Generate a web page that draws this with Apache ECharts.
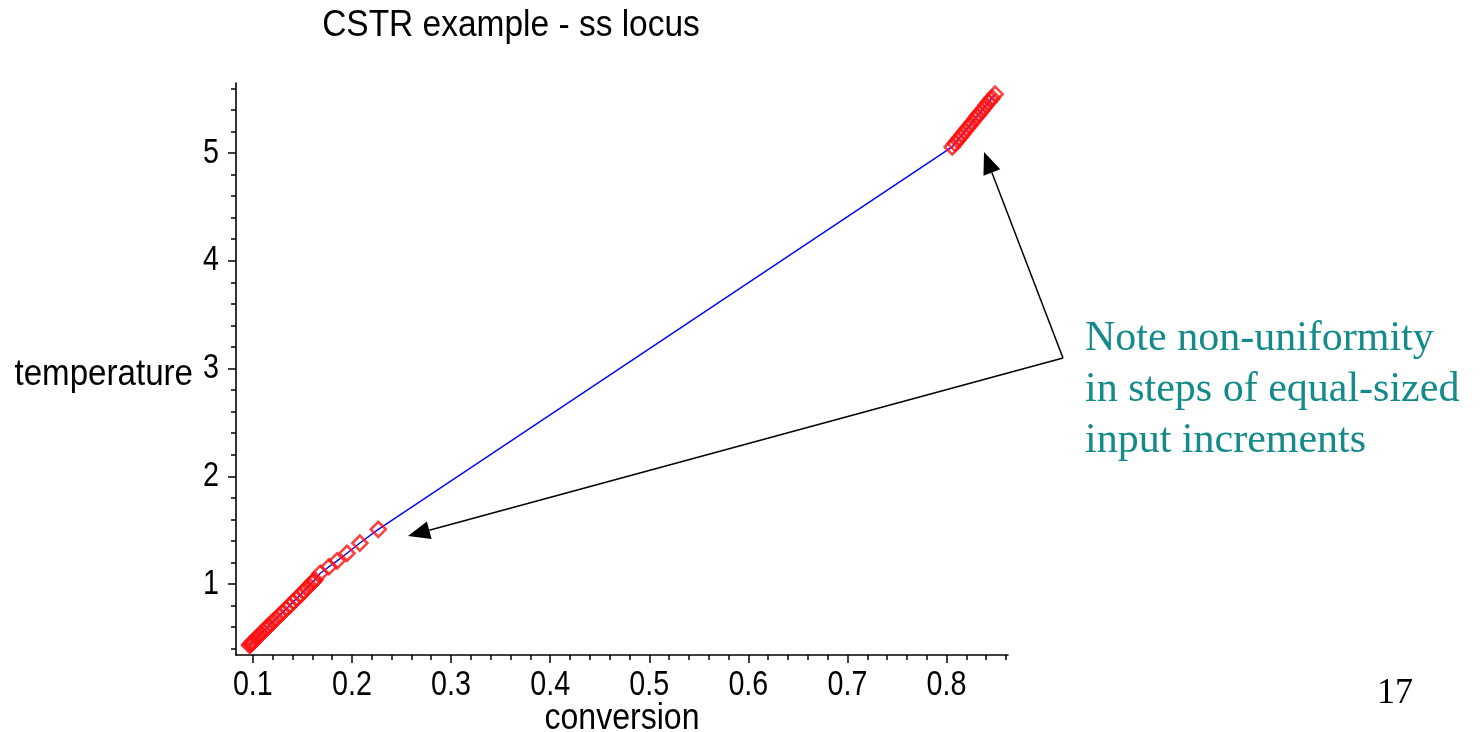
<!DOCTYPE html>
<html><head><meta charset="utf-8">
<script src="https://cdn.jsdelivr.net/npm/echarts@6/dist/echarts.min.js"></script>
<style>html,body{margin:0;padding:0;background:#fff;}#c{width:1484px;height:732px;}</style>
</head><body><div id="c"></div>
<script>
// steady-state locus points (conversion, temperature)
const conversion = [0.0968,0.0975,0.0983,0.0992,0.1002,0.1014,0.1028,0.1044,0.1062,0.1082,0.1104,0.1128,0.1150,0.1158,0.1180,0.1208,0.1238,0.1270,0.1303,0.1337,0.1372,0.1407,0.1442,0.1477,0.1510,0.1542,0.1570,0.1595,0.1613,0.1626,
  0.1680,0.1768,0.1850,0.1950,0.2080,0.2266,
  0.8057,0.8085,0.8110,0.8135,0.8160,0.8185,0.8210,0.8235,0.8260,0.8290,0.8310,0.8330,0.8350,0.8375,0.8400,0.8425,0.8445,0.8460,0.8490];
const temperature = [0.43,0.44,0.45,0.455,0.465,0.475,0.49,0.505,0.52,0.54,0.56,0.58,0.60,0.61,0.63,0.655,0.68,0.71,0.74,0.77,0.80,0.835,0.865,0.895,0.93,0.96,0.985,1.01,1.025,1.04,
  1.10,1.16,1.215,1.285,1.38,1.507,
  5.057,5.089,5.117,5.145,5.173,5.202,5.23,5.258,5.286,5.32,5.343,5.365,5.388,5.416,5.445,5.473,5.495,5.512,5.546];
const xMajorTicks = [0.1,0.2,0.3,0.4,0.5,0.6,0.7,0.8];
const xMajorLabels = ['0.1','0.2','0.3','0.4','0.5','0.6','0.7','0.8'];
const xMinorTicks = [0.1,0.12,0.14,0.16,0.18,0.2,0.22,0.24,0.26,0.28,0.3,0.32,0.34,0.36,0.38,0.4,0.42,0.44,0.46,0.48,0.5,0.52,0.54,0.56,0.58,0.6,0.62,0.64,0.66,0.68,0.7,0.72,0.74,0.76,0.78,0.8,0.82,0.84,0.86];
const yMajorTicks = [1,2,3,4,5];
const yMajorLabels = ['1','2','3','4','5'];
const yMinorTicks = [0.4,0.6,0.8,1,1.2,1.4,1.6,1.8,2,2.2,2.4,2.6,2.8,3,3.2,3.4,3.6,3.8,4,4.2,4.4,4.6,4.8,5,5.2,5.4,5.6];
const titleText = 'CSTR example - ss locus';
const xName = 'conversion';
const yName = 'temperature';
const noteText = 'Note non-uniformity\nin steps of equal-sized\ninput increments';
const pageNumber = '17';

const X_MIN = 0.083, X_MAX = 0.862, Y_MIN = 0.341, Y_MAX = 5.65;
const SANS = '"Liberation Sans",Arial,sans-serif';
const SERIF = '"Liberation Serif","Times New Roman",serif';

const pts = conversion.map((x, i) => [x, temperature[i]]);
const chart = echarts.init(document.getElementById('c'), null, {renderer: 'canvas'});

const tickStyle = {color: '#000', width: 1.5};
chart.setOption({
  animation: false,
  backgroundColor: '#fff',
  grid: {left: 236, right: 476, top: 83, bottom: 77, containLabel: false, outerBoundsMode: 'none'},
  xAxis: [
    {type: 'value', min: X_MIN, max: X_MAX, splitLine: {show: false},
      axisLine: {show: true, onZero: false, lineStyle: {color: '#000', width: 1.6}},
      axisTick: {show: true, length: 8, customValues: xMajorTicks, lineStyle: tickStyle},
      axisLabel: {show: false}},
    {type: 'value', min: X_MIN, max: X_MAX, position: 'bottom', splitLine: {show: false},
      axisLine: {show: false},
      axisTick: {show: true, length: 5, customValues: xMinorTicks, lineStyle: tickStyle},
      axisLabel: {show: false}}
  ],
  yAxis: [
    {type: 'value', min: Y_MIN, max: Y_MAX, splitLine: {show: false},
      axisLine: {show: true, onZero: false, lineStyle: {color: '#000', width: 1.6}},
      axisTick: {show: true, length: 8, customValues: yMajorTicks, lineStyle: tickStyle},
      axisLabel: {show: false}},
    {type: 'value', min: Y_MIN, max: Y_MAX, position: 'left', splitLine: {show: false},
      axisLine: {show: false},
      axisTick: {show: true, length: 5, customValues: yMinorTicks, lineStyle: tickStyle},
      axisLabel: {show: false}}
  ],
  series: [
    {type: 'line', data: pts, xAxisIndex: 0, yAxisIndex: 0, showSymbol: false, symbol: 'none',
      lineStyle: {color: '#0000ff', width: 1.4}, z: 2, silent: true},
    {type: 'scatter', data: pts, xAxisIndex: 0, yAxisIndex: 0, symbol: 'diamond', symbolSize: 15,
      itemStyle: {color: 'rgba(255,255,255,0)', borderColor: '#ff1010', borderWidth: 2.6}, z: 3, silent: true}
  ]
});

function arrow(x1, y1, x2, y2) {
  const ang = Math.atan2(y2 - y1, x2 - x1);
  const L = 22, W = 9;
  const bx = x2 - L * Math.cos(ang), by = y2 - L * Math.sin(ang);
  const px = -Math.sin(ang), py = Math.cos(ang);
  return [
    {type: 'line', shape: {x1: x1, y1: y1, x2: bx, y2: by}, style: {stroke: '#000', lineWidth: 1.5}},
    {type: 'polygon', shape: {points: [[x2, y2], [bx + W * px, by + W * py], [bx - W * px, by - W * py]]}, style: {fill: '#000'}}
  ];
}
function label(text, x, y, size, align, vAlign, sx) {
  return {type: 'text', x: x, y: y, scaleX: sx, silent: true,
    style: {text: text, font: size + 'px ' + SANS, fill: '#000', textAlign: align, textVerticalAlign: vAlign}};
}
const gridRect = {left: 236, right: 1008, top: 83, bottom: 655};
const texts = [];
texts.push(label(titleText, 511, 26, 36, 'center', 'middle', 0.93));
texts.push(label(xName, (gridRect.left + gridRect.right) / 2, 719, 36, 'center', 'middle', 0.89));
texts.push(label(yName, 193, 375, 36, 'right', 'middle', 0.92));
xMajorTicks.forEach((v, i) => {
  const px = chart.convertToPixel({xAxisIndex: 0}, v);
  texts.push(label(xMajorLabels[i], px, 685, 35, 'center', 'middle', 0.82));
});
yMajorTicks.forEach((v, i) => {
  const py = chart.convertToPixel({yAxisIndex: 0}, v);
  texts.push(label(yMajorLabels[i], 219, py, 35, 'right', 'middle', 0.82));
});
const tail = [1063, 358];
const graphics = [].concat(
  arrow(tail[0], tail[1], 984, 152),
  arrow(tail[0], tail[1], 408, 536),
  texts,
  [{type: 'text', left: 1085, top: 313, style: {text: noteText, font: '42px ' + SERIF, fill: '#148a8a', lineHeight: 51}},
   {type: 'text', left: 1377, top: 676, style: {text: pageNumber, font: '36px ' + SERIF, fill: '#000'}}]
);
chart.setOption({graphic: graphics});
</script>
</body></html>
